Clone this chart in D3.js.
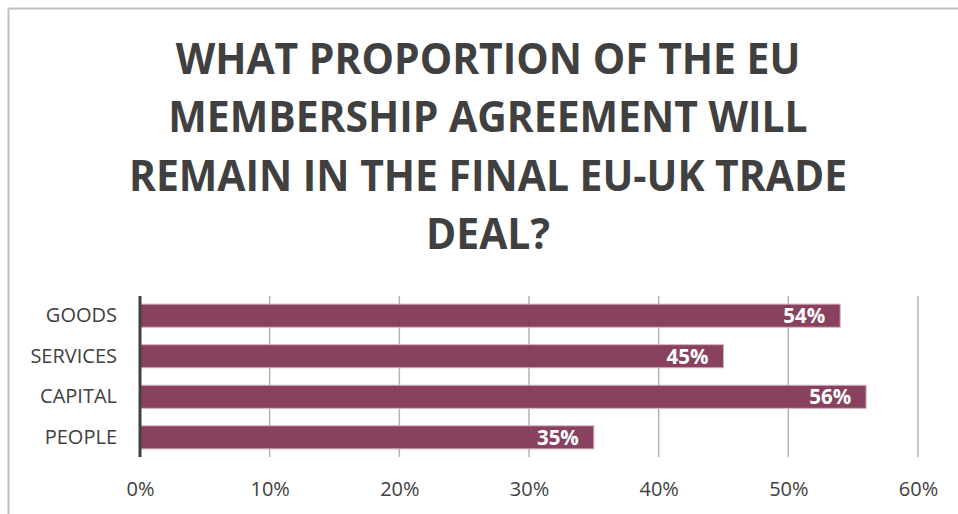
<!DOCTYPE html>
<html>
<head>
<meta charset="utf-8">
<script src="https://cdn.jsdelivr.net/npm/d3@7/dist/d3.min.js"></script>
<style>
  html, body { margin: 0; padding: 0; background: #fff; }
  svg { display: block; font-family: "Open Sans", "Noto Sans", sans-serif; }
</style>
</head>
<body>
<svg id="chart" width="958" height="514"></svg>
<script>
// Survey answers: share of each freedom expected to survive in the trade deal
const categories = ["GOODS", "SERVICES", "CAPITAL", "PEOPLE"];
const values = [0.54, 0.45, 0.56, 0.35];
const tickValues = [0, 0.1, 0.2, 0.3, 0.4, 0.5, 0.6];
const titleLines = [
  "WHAT PROPORTION OF THE EU",
  "MEMBERSHIP AGREEMENT WILL",
  "REMAIN IN THE FINAL EU-UK TRADE",
  "DEAL?"
];

const W = 958, H = 514;
const svg = d3.select("#chart");

// Chart frame (top and left edges visible)
svg.append("line").attr("x1", 8.5).attr("x2", W).attr("y1", 8.5).attr("y2", 8.5)
  .attr("stroke", "#bfbfbf").attr("stroke-width", 2);
svg.append("line").attr("x1", 8.5).attr("x2", 8.5).attr("y1", 8.5).attr("y2", H)
  .attr("stroke", "#bfbfbf").attr("stroke-width", 2);

// Title: bold, slightly condensed
const titleCx = 488;
const titleFont = 43;
const condense = 0.95;   // horizontal squeeze applied to each title line
svg.append("g").selectAll("text").data(titleLines).join("text")
  .attr("x", titleCx)
  .attr("y", (d, i) => 74 + i * 58.3)
  .attr("text-anchor", "middle")
  .attr("font-weight", 700)
  .attr("font-size", titleFont)
  .attr("fill", "#404040")
  .text(d => d)
  .each(function () {
    const w = this.getComputedTextLength();
    d3.select(this).attr("textLength", w * condense).attr("lengthAdjust", "spacingAndGlyphs");
  });

// Plot area scales
const x = d3.scaleLinear().domain([0, 0.6]).range([140, 918]);
const y = d3.scaleBand().domain(categories).range([296, 457]).paddingInner(0.43).paddingOuter(0.2);

// Vertical gridlines
svg.append("g").selectAll("line").data(tickValues.slice(1)).join("line")
  .attr("x1", d => x(d)).attr("x2", d => x(d))
  .attr("y1", 296).attr("y2", 457)
  .attr("stroke", "#b3b3b3").attr("stroke-width", 1.5);

// Bars
svg.append("g").selectAll("rect").data(categories).join("rect")
  .attr("x", x(0))
  .attr("y", d => y(d))
  .attr("width", (d, i) => x(values[i]) - x(0))
  .attr("height", y.bandwidth())
  .attr("fill", "#843b5a")
  .attr("fill-opacity", 0.97)
  .attr("stroke", "#d9b3c2")
  .attr("stroke-width", 1);

// Value labels inside the bar ends
svg.append("g").selectAll("text").data(categories).join("text")
  .attr("x", (d, i) => x(values[i]) - 15)
  .attr("y", d => y(d) + y.bandwidth() / 2)
  .attr("dy", "0.36em")
  .attr("text-anchor", "end")
  .attr("font-weight", 700)
  .attr("font-size", 20.5)
  .attr("fill", "#ffffff")
  .text((d, i) => d3.format(".0%")(values[i]));

// Category axis
const yAxis = svg.append("g").attr("transform", `translate(${x(0)},0)`)
  .call(d3.axisLeft(y).tickSize(0).tickPadding(23));
yAxis.select(".domain").attr("stroke", "#404040").attr("stroke-width", 3)
  .attr("d", "M0,296V457");
yAxis.selectAll("text").attr("font-size", 20).attr("fill", "#404040")
  .attr("font-family", "Open Sans, sans-serif");

// Value axis labels
const xAxis = svg.append("g").attr("transform", "translate(0,457)")
  .call(d3.axisBottom(x).tickValues(tickValues).tickFormat(d3.format(".0%")).tickSize(0).tickPadding(25));
xAxis.select(".domain").remove();
xAxis.selectAll("text").attr("font-size", 20).attr("fill", "#404040")
  .attr("font-family", "Open Sans, sans-serif");
</script>
</body>
</html>
